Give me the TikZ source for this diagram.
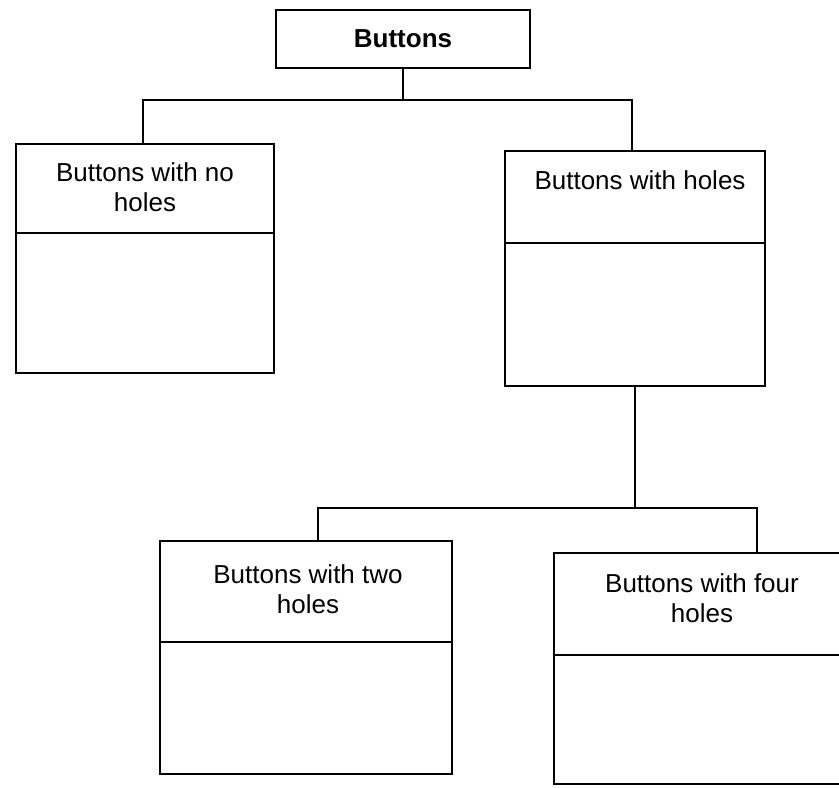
\documentclass[tikz,border=0pt]{standalone}
\usepackage{fontspec}
\setmainfont{Liberation Sans}
\usetikzlibrary{positioning}

\tikzset{
    classbox/.style n args={2}{draw, line width=1.8pt, minimum width=#1, minimum height=#2,
        inner sep=0pt, anchor=north},
    headbox/.style={draw, line width=1.8pt, minimum width=254pt, minimum height=58pt,
        inner sep=0pt, font=\fontsize{26}{30}\selectfont\bfseries},
    title/.style={align=center, inner sep=0pt, font=\fontsize{26}{30}\selectfont},
    link/.style={line width=1.3pt}
}

\begin{document}
\begin{tikzpicture}[x=1pt,y=-1pt]
    \useasboundingbox (0,0) rectangle (839,788);
    \clip (0,0) rectangle (839,788);

    % Top of the tree
    \node[headbox] (buttons) at (403,39) {Buttons};

    % Second level
    \node[classbox={258pt}{229pt}] (noholes) at (145,143) {};
    \node[classbox={260pt}{235pt}] (holes)   at (635,150) {};
    \node[title] (noholestxt) at (145,187) {Buttons with no\\holes};
    \node[title] (holestxt)   at (640,180) {Buttons with holes};

    % Third level
    \node[classbox={292pt}{233pt}] (twoholes)  at (306,540) {};
    \node[classbox={296pt}{231pt}] (fourholes) at (702,552) {};
    \node[title] (twoholestxt)  at (308,589) {Buttons with two\\holes};
    \node[title] (fourholestxt) at (702,598) {Buttons with four\\holes};

    % Dividing lines of the boxes
    \draw[line width=1.8pt] ([yshift=-90pt]noholes.north west)   -- ([yshift=-90pt]noholes.north east);
    \draw[line width=1.8pt] ([yshift=-93pt]holes.north west)     -- ([yshift=-93pt]holes.north east);
    \draw[line width=1.8pt] ([yshift=-102pt]twoholes.north west) -- ([yshift=-102pt]twoholes.north east);
    \draw[line width=1.8pt] ([yshift=-103pt]fourholes.north west)-- ([yshift=-103pt]fourholes.north east);

    % Connectors, upper fork
    \coordinate (leftend)  at (143,100);
    \coordinate (rightend) at (632,100);
    \draw[link] (buttons.south) -- (buttons.south |- leftend);
    \draw[link] (noholes.north -| leftend) -- (leftend) -- (rightend) -- (holes.north -| rightend);

    % Connectors, lower fork
    \coordinate (twoend)  at (318,508);
    \coordinate (fourend) at (757,508);
    \draw[link] (holes.south) -- (holes.south |- twoend);
    \draw[link] (twoholes.north -| twoend) -- (twoend) -- (fourend) -- (fourholes.north -| fourend);
\end{tikzpicture}
\end{document}
